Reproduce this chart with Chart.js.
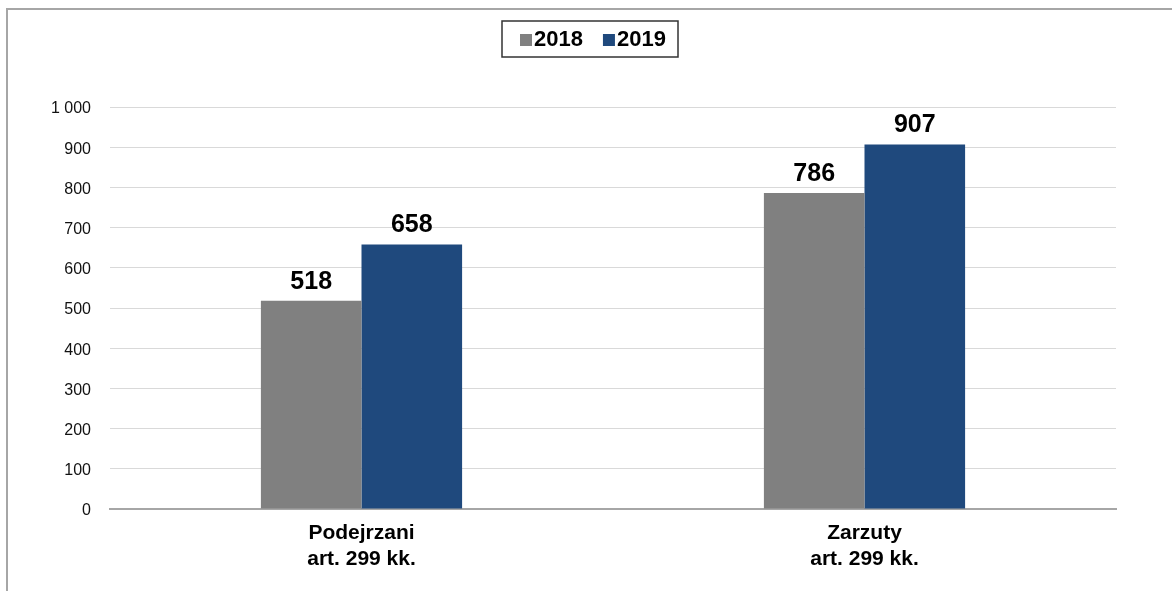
<!DOCTYPE html>
<html>
<head>
<meta charset="utf-8">
<script src="https://cdn.jsdelivr.net/npm/chart.js@4/dist/chart.umd.min.js"></script>
<style>
  body { margin: 0; background: #fff; }
  #wrap { position: relative; width: 1172px; height: 591px; }
</style>
</head>
<body>
<div id="wrap"><canvas id="chart" width="1172" height="591"></canvas></div>
<script>
// -------------- data --------------
const categories = [['Podejrzani', 'art. 299 kk.'], ['Zarzuty', 'art. 299 kk.']];
const seriesNames = ['2018', '2019'];
const values2018 = [518, 786];
const values2019 = [658, 907];
const yMax = 1000;
const yStep = 100;

const FONT = "'Liberation Sans', Arial, sans-serif";

// thousands separated by a space, like "1 000"
function fmt(v) {
    return String(v).replace(/\B(?=(\d{3})+(?!\d))/g, ' ');
}

// frame, value labels and the boxed legend
const extras = {
    id: 'extras',
    beforeDraw(chart) {
        const ctx = chart.ctx;
        ctx.save();
        ctx.strokeStyle = '#a6a6a6';
        ctx.lineWidth = 2;
        ctx.beginPath();
        ctx.moveTo(7, 591);
        ctx.lineTo(7, 9);
        ctx.lineTo(1172, 9);
        ctx.stroke();
        ctx.restore();
    },
    afterDatasetsDraw(chart) {
        const ctx = chart.ctx;
        ctx.save();
        ctx.font = 'bold 25px ' + FONT;
        ctx.fillStyle = '#000';
        ctx.textAlign = 'center';
        ctx.textBaseline = 'alphabetic';
        chart.data.datasets.forEach((ds, i) => {
            chart.getDatasetMeta(i).data.forEach((bar, j) => {
                ctx.fillText(fmt(ds.data[j]), bar.x, bar.y - 12);
            });
        });

        // legend
        const boxL = 502, boxT = 21, boxW = 176, boxH = 36;
        ctx.strokeStyle = '#333';
        ctx.lineWidth = 1.5;
        ctx.strokeRect(boxL, boxT, boxW, boxH);
        ctx.font = 'bold 22px ' + FONT;
        ctx.textAlign = 'left';
        ctx.textBaseline = 'middle';
        let x = 520;
        const cy = boxT + boxH / 2 + 1;
        chart.data.datasets.forEach(ds => {
            ctx.fillStyle = ds.backgroundColor;
            ctx.fillRect(x, cy - 6, 12, 12);
            ctx.fillStyle = '#000';
            ctx.fillText(ds.label, x + 14, cy);
            x += 14 + ctx.measureText(ds.label).width + 20;
        });
        ctx.restore();
    }
};

const chartData = {
    labels: categories,
    datasets: [{
        label: seriesNames[0],
        data: values2018,
        backgroundColor: '#808080'
    }, {
        label: seriesNames[1],
        data: values2019,
        backgroundColor: '#1F497D'
    }]
};

const chartOptions = {
    responsive: false,
    animation: false,
    layout: { padding: { top: 107, right: 56, bottom: 0, left: 0 } },
    datasets: {
        bar: { categoryPercentage: 0.4, barPercentage: 1.0, borderWidth: 0 }
    },
    plugins: {
        legend: { display: false },
        tooltip: { enabled: false }
    },
    scales: {
        x: {
            grid: { display: false, drawTicks: false },
            border: { color: '#a6a6a6', width: 2 },
            ticks: {
                padding: 11,
                color: '#000',
                font: { family: FONT, size: 21, weight: 'bold', lineHeight: 1.24 }
            },
            afterFit(scale) { scale.height = 82; }
        },
        y: {
            min: 0,
            max: yMax,
            grid: {
                drawTicks: false,
                color: ctx => ctx.tick && ctx.tick.value === 0 ? 'rgba(0,0,0,0)' : '#d9d9d9',
                lineWidth: 1
            },
            border: { display: false },
            ticks: {
                stepSize: yStep,
                padding: 19,
                labelOffset: 2,
                color: '#111',
                font: { family: FONT, size: 16 },
                callback: v => fmt(v)
            },
            afterFit(scale) { scale.width = 110; }
        }
    }
};

const chart = new Chart(document.getElementById('chart'), {
    type: 'bar',
    data: chartData,
    options: chartOptions,
    plugins: [extras]
});
</script>
</body>
</html>
